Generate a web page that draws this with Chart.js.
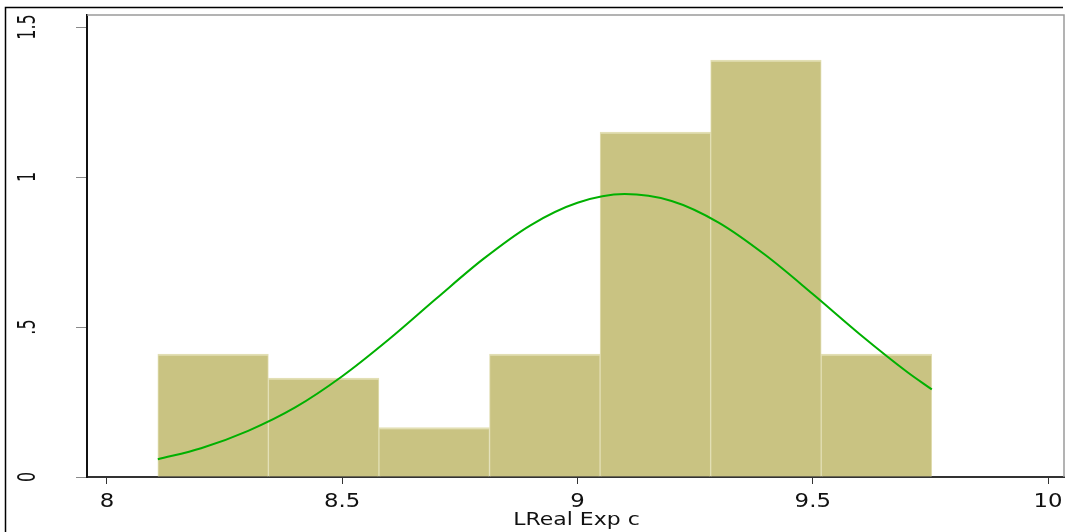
<!DOCTYPE html>
<html>
<head>
<meta charset="utf-8">
<script src="https://cdn.jsdelivr.net/npm/chart.js@4"></script>
<style>
  html, body { margin: 0; padding: 0; background: #fff; }
  canvas { display: block; }
</style>
</head>
<body>
<canvas id="hist" width="1065" height="532"></canvas>
<script>
// Histogram of LReal Exp c (density scale) with a fitted normal curve
const binCenters = [8.2255, 8.4605, 8.6955, 8.9305, 9.1655, 9.4005, 9.6355];
const densities  = [0.41, 0.33, 0.165, 0.41, 1.15, 1.39, 0.41];

const curveX = [8.108, 8.2, 8.3, 8.4, 8.5, 8.6, 8.7, 8.8, 8.9, 9.0, 9.1, 9.2, 9.3, 9.4, 9.5, 9.6, 9.7, 9.753];
const curveY = [0.059, 0.096, 0.154, 0.232, 0.336, 0.460, 0.595, 0.727, 0.839, 0.914, 0.943, 0.920, 0.848, 0.739, 0.610, 0.476, 0.351, 0.292];

const xTicks = [8, 8.5, 9, 9.5, 10];
const xTickLabels = ['8', '8.5', '9', '9.5', '10'];
const yTicks = [0, 0.5, 1, 1.5];
const yTickLabels = ['0', '.5', '1', '1.5'];
const xTitle = 'LReal Exp c';

const FONT = '"DejaVu Sans", Verdana, sans-serif';

// Frame lines, rotated y labels, stretched x labels and axis title
const framePlugin = {
  id: 'frame',
  beforeDraw(chart) {
    const ctx = chart.ctx;
    ctx.save();
    ctx.fillStyle = '#fff';
    ctx.fillRect(0, 0, chart.width, chart.height);
    ctx.restore();
  },
  afterDraw(chart) {
    const ctx = chart.ctx;
    const a = chart.chartArea;
    const xs = chart.scales.x, ys = chart.scales.y;
    ctx.save();
    // outer figure border
    ctx.strokeStyle = '#000';
    ctx.lineWidth = 1.5;
    ctx.beginPath();
    ctx.moveTo(5.5, 532);
    ctx.lineTo(5.5, 7.5);
    ctx.lineTo(1063, 7.5);
    ctx.stroke();
    // plot region top and right edges
    ctx.strokeStyle = '#9a9a9a';
    ctx.lineWidth = 1.5;
    ctx.beginPath();
    ctx.moveTo(a.left, a.top);
    ctx.lineTo(a.right, a.top);
    ctx.lineTo(a.right, a.bottom);
    ctx.stroke();

    ctx.fillStyle = '#111';
    // y tick labels, reading upward
    ctx.font = '16px ' + FONT;
    ctx.textAlign = 'center';
    ctx.textBaseline = 'alphabetic';
    yTicks.forEach((v, i) => {
      const py = ys.getPixelForValue(v);
      ctx.save();
      ctx.translate(35, py);
      ctx.rotate(-Math.PI / 2);
      ctx.scale(1, 1.5);
      ctx.fillText(yTickLabels[i], 0, 0);
      ctx.restore();
    });
    // x tick labels
    ctx.font = '19px ' + FONT;
    xTicks.forEach((v, i) => {
      const px = xs.getPixelForValue(v);
      ctx.save();
      ctx.translate(px, 507);
      ctx.scale(1.2, 1);
      ctx.fillText(xTickLabels[i], 0, 0);
      ctx.restore();
    });
    // x axis title
    ctx.font = '18px ' + FONT;
    ctx.save();
    ctx.translate((a.left + a.right) / 2 + 1, 525);
    ctx.scale(1.22, 1);
    ctx.fillText(xTitle, 0, 0);
    ctx.restore();
    ctx.restore();
  }
};

new Chart(document.getElementById('hist'), {
  data: {
    datasets: [
      {
        type: 'line',
        order: 0,
        data: curveX.map((x, i) => ({ x: x, y: curveY[i] })),
        borderColor: '#00b000',
        borderWidth: 2,
        pointRadius: 0,
        fill: false,
        cubicInterpolationMode: 'monotone'
      },
      {
        type: 'bar',
        order: 1,
        data: binCenters.map((x, i) => ({ x: x, y: densities[i] })),
        backgroundColor: '#c9c382',
        borderColor: '#e2dfb4',
        borderWidth: { top: 2, left: 1, right: 1, bottom: 0 },
        borderSkipped: 'bottom',
        barPercentage: 1,
        categoryPercentage: 1
      }
    ]
  },
  options: {
    responsive: false,
    animation: false,
    layout: { padding: { top: 15, right: 1, left: 0, bottom: 0 } },
    plugins: { legend: { display: false }, tooltip: { enabled: false } },
    scales: {
      x: {
        type: 'linear',
        position: 'bottom',
        min: 7.9575,
        max: 10.034,
        offset: false,
        grid: { drawOnChartArea: false, drawTicks: true, tickLength: 7, color: '#333', offset: false },
        border: { display: true, color: '#333', width: 2 },
        ticks: { display: false },
        afterBuildTicks(scale) { scale.ticks = xTicks.map(v => ({ value: v })); },
        afterFit(scale) { scale.height = 55; }
      },
      y: {
        type: 'linear',
        position: 'left',
        min: 0,
        max: 1.54,
        grid: { drawOnChartArea: false, drawTicks: true, tickLength: 11, color: '#8a8a8a' },
        border: { display: true, color: '#111', width: 2 },
        ticks: { display: false },
        afterBuildTicks(scale) { scale.ticks = yTicks.map(v => ({ value: v })); },
        afterFit(scale) { scale.width = 87; }
      }
    }
  },
  plugins: [framePlugin]
});
</script>
</body>
</html>
